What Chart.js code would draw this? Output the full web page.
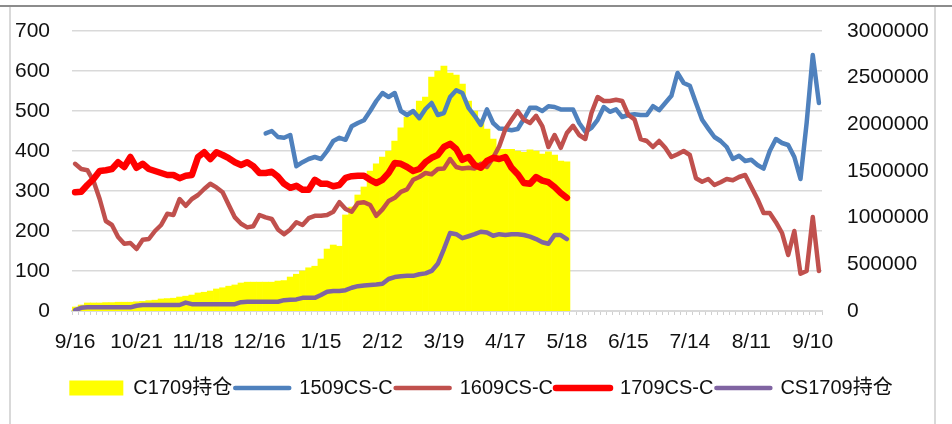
<!DOCTYPE html>
<html><head><meta charset="utf-8">
<style>
html,body{margin:0;padding:0;background:#fff;}
#wrap{position:relative;width:952px;height:424px;overflow:hidden;background:#fff;}
#topline{position:absolute;left:0;top:5px;width:952px;height:2px;background:#8c8c8c;}
#frame{position:absolute;left:9px;top:7px;width:923px;height:440px;border-left:2px solid #d9d9d9;border-right:2px solid #d9d9d9;}
canvas{position:absolute;left:0;top:0;}
</style>
<script src="https://cdn.jsdelivr.net/npm/chart.js@4.4.1/dist/chart.umd.min.js"></script>
</head><body>
<div id="wrap"><div id="topline"></div><div id="frame"></div><canvas id="c" width="952" height="424"></canvas></div>
<script>
// x-axis tick labels (every 10th category)
const tickLabels = ['9/16','10/21','11/18','12/16','1/15','2/12','3/19','4/17','5/18','6/15','7/14','8/11','9/10'];
const seriesNames = ['C1709持仓','1509CS-C','1609CS-C','1709CS-C','CS1709持仓'];

// C1709持仓 (right axis)
const c1709Holding = [
43000,64000,86000,86000,86000,90000,90000,94000,94000,94000,
99000,103000,111000,116000,129000,133000,137000,150000,159000,171000,
193000,201000,214000,236000,249000,266000,279000,300000,309000,309000,
309000,309000,309000,321000,326000,364000,394000,429000,463000,480000,
557000,664000,707000,694000,1029000,1114000,1243000,1329000,1500000,1577000,
1650000,1714000,1821000,1963000,2079000,2109000,2250000,2293000,2507000,2571000,
2623000,2550000,2529000,2430000,2250000,2143000,2057000,1950000,1843000,1731000,
1731000,1731000,1714000,1701000,1727000,1714000,1680000,1706000,1671000,1607000,
1599000];

// 1509CS-C (left axis)
const cs1509 = [
null,null,null,null,null,null,null,null,null,null,
null,null,null,null,null,null,null,null,null,null,
null,null,null,null,null,null,null,null,null,null,
null,444,450,435,433,440,362,372,380,385,
380,400,425,433,428,462,470,477,500,525,
545,535,545,500,490,500,482,505,520,490,
495,535,552,545,508,488,465,504,470,456,
455,452,455,480,508,508,500,512,510,504,
504,504,470,448,458,478,510,498,504,485,
490,492,490,490,512,502,520,538,595,570,
563,520,478,456,435,425,410,380,388,375,
378,365,356,400,430,420,415,385,330,470,
640,520];

// 1609CS-C (left axis)
const cs1609 = [
368,355,352,325,280,225,215,185,168,170,
155,178,180,200,215,243,240,280,263,280,
290,305,318,309,297,265,234,218,209,212,
240,234,230,204,192,204,222,215,232,238,
238,240,248,272,255,248,270,272,265,238,
254,275,283,298,304,328,335,345,342,355,
356,380,360,356,358,356,368,360,383,412,
455,478,500,478,470,488,462,410,440,408,
445,463,440,430,495,535,525,525,528,525,
490,479,430,425,410,425,408,385,392,400,
390,332,323,330,315,322,330,327,335,340,
310,280,245,245,222,195,140,200,93,100,
235,100];

// 1709CS-C (left axis)
const cs1709 = [
297,298,315,330,350,352,355,372,360,385,
358,368,355,350,345,340,340,332,338,340,
385,397,380,397,390,382,372,365,372,362,
345,345,348,336,318,308,313,303,303,328,
318,318,312,315,333,337,338,338,328,320,
328,345,370,368,360,350,355,372,383,390,
410,418,405,378,385,365,358,375,383,380,
385,358,342,320,318,335,326,322,310,295,
283];

// CS1709持仓 (right axis)
const cs1709Holding = [
9000,34000,39000,39000,39000,39000,39000,39000,39000,39000,
56000,64000,64000,64000,64000,64000,64000,64000,90000,73000,
73000,73000,73000,73000,73000,73000,73000,94000,99000,99000,
99000,99000,99000,99000,116000,120000,124000,141000,141000,141000,
171000,206000,214000,214000,223000,249000,266000,274000,279000,283000,
291000,343000,364000,373000,377000,377000,394000,403000,429000,506000,
664000,836000,823000,780000,801000,823000,849000,840000,806000,823000,
814000,823000,823000,814000,797000,771000,737000,720000,814000,814000,
771000];

const categories = cs1609.map((_, i) => i);
const FONT = "'Liberation Sans','Noto Sans CJK SC',sans-serif";

function lineDs(label, data, color, width, order) {
  return {type:'line', label, data, borderColor:color, backgroundColor:color, borderWidth:width,
    pointRadius:0, pointHoverRadius:0, pointBorderWidth:width, pointStyle:'line',
    borderJoinStyle:'round', borderCapStyle:'round', tension:0, spanGaps:false,
    yAxisID: 'y', order};
}

const ds = [
  {type:'bar', label:seriesNames[0], data:c1709Holding, backgroundColor:'#FFFF00', borderWidth:0,
   barPercentage:1, categoryPercentage:1, yAxisID:'y2', order:5, pointStyle:'rect'},
  lineDs(seriesNames[1], cs1509, '#4F81BD', 4.5, 4),
  lineDs(seriesNames[2], cs1609, '#C0504D', 4.5, 3),
  lineDs(seriesNames[3], cs1709, '#FF0000', 6.5, 2),
  Object.assign(lineDs(seriesNames[4], cs1709Holding, '#8064A2', 4.5, 1), {yAxisID:'y2'})
];

new Chart(document.getElementById('c'), {
  data: {labels: categories, datasets: ds},
  options: {
    responsive:false, animation:false, events:[],
    layout:{padding:{top:31,left:10,right:0,bottom:16}},
    plugins:{
      tooltip:{enabled:false},
      legend:{position:'bottom',
        labels:{font:{size:20,family:FONT}, color:'#111', usePointStyle:true, pointStyleWidth:54, boxHeight:15, padding:3,
          generateLabels(chart){
            const items = Chart.defaults.plugins.legend.labels.generateLabels(chart);
            items.forEach(it => {
              const d = chart.data.datasets[it.datasetIndex];
              if (d.type === 'bar') { it.pointStyle='rect'; it.lineWidth=0; it.fillStyle='#FFFF00'; }
              else { it.pointStyle='line'; it.lineWidth=d.borderWidth; it.strokeStyle=d.borderColor; it.lineCap='round'; }
            });
            return items;
          },
          sort:(a,b)=>a.datasetIndex-b.datasetIndex
        }}
    },
    scales:{
      x:{type:'category', offset:true,
        grid:{display:true, drawOnChartArea:false, drawTicks:true, tickLength:4, color:'#d0d0d0', offset:true},
        border:{display:true, color:'#d9d9d9', width:2},
        ticks:{autoSkip:false, maxRotation:0, minRotation:0, padding:15, color:'#111', font:{size:21,family:FONT},
          callback:(v,i)=> i%10===0 ? tickLabels[i/10] : ''},
        afterFit:s=>{s.height=64;}
      },
      y:{position:'left', min:0, max:700,
        ticks:{stepSize:100, padding:22, color:'#111', font:{size:21,family:FONT}},
        grid:{color:'#d9d9d9', lineWidth:1.5, drawTicks:false},
        border:{display:false},
        afterFit:s=>{s.width=62; s.paddingTop=0; s.paddingBottom=0;}
      },
      y2:{position:'right', min:0, max:3000000,
        ticks:{stepSize:500000, padding:25, color:'#111', font:{size:21,family:FONT}, callback:v=>String(v)},
        grid:{display:false, drawOnChartArea:false, drawTicks:false},
        border:{display:false},
        afterFit:s=>{s.width=130; s.paddingTop=0; s.paddingBottom=0;}
      }
    }
  }
});
</script>
</body></html>
